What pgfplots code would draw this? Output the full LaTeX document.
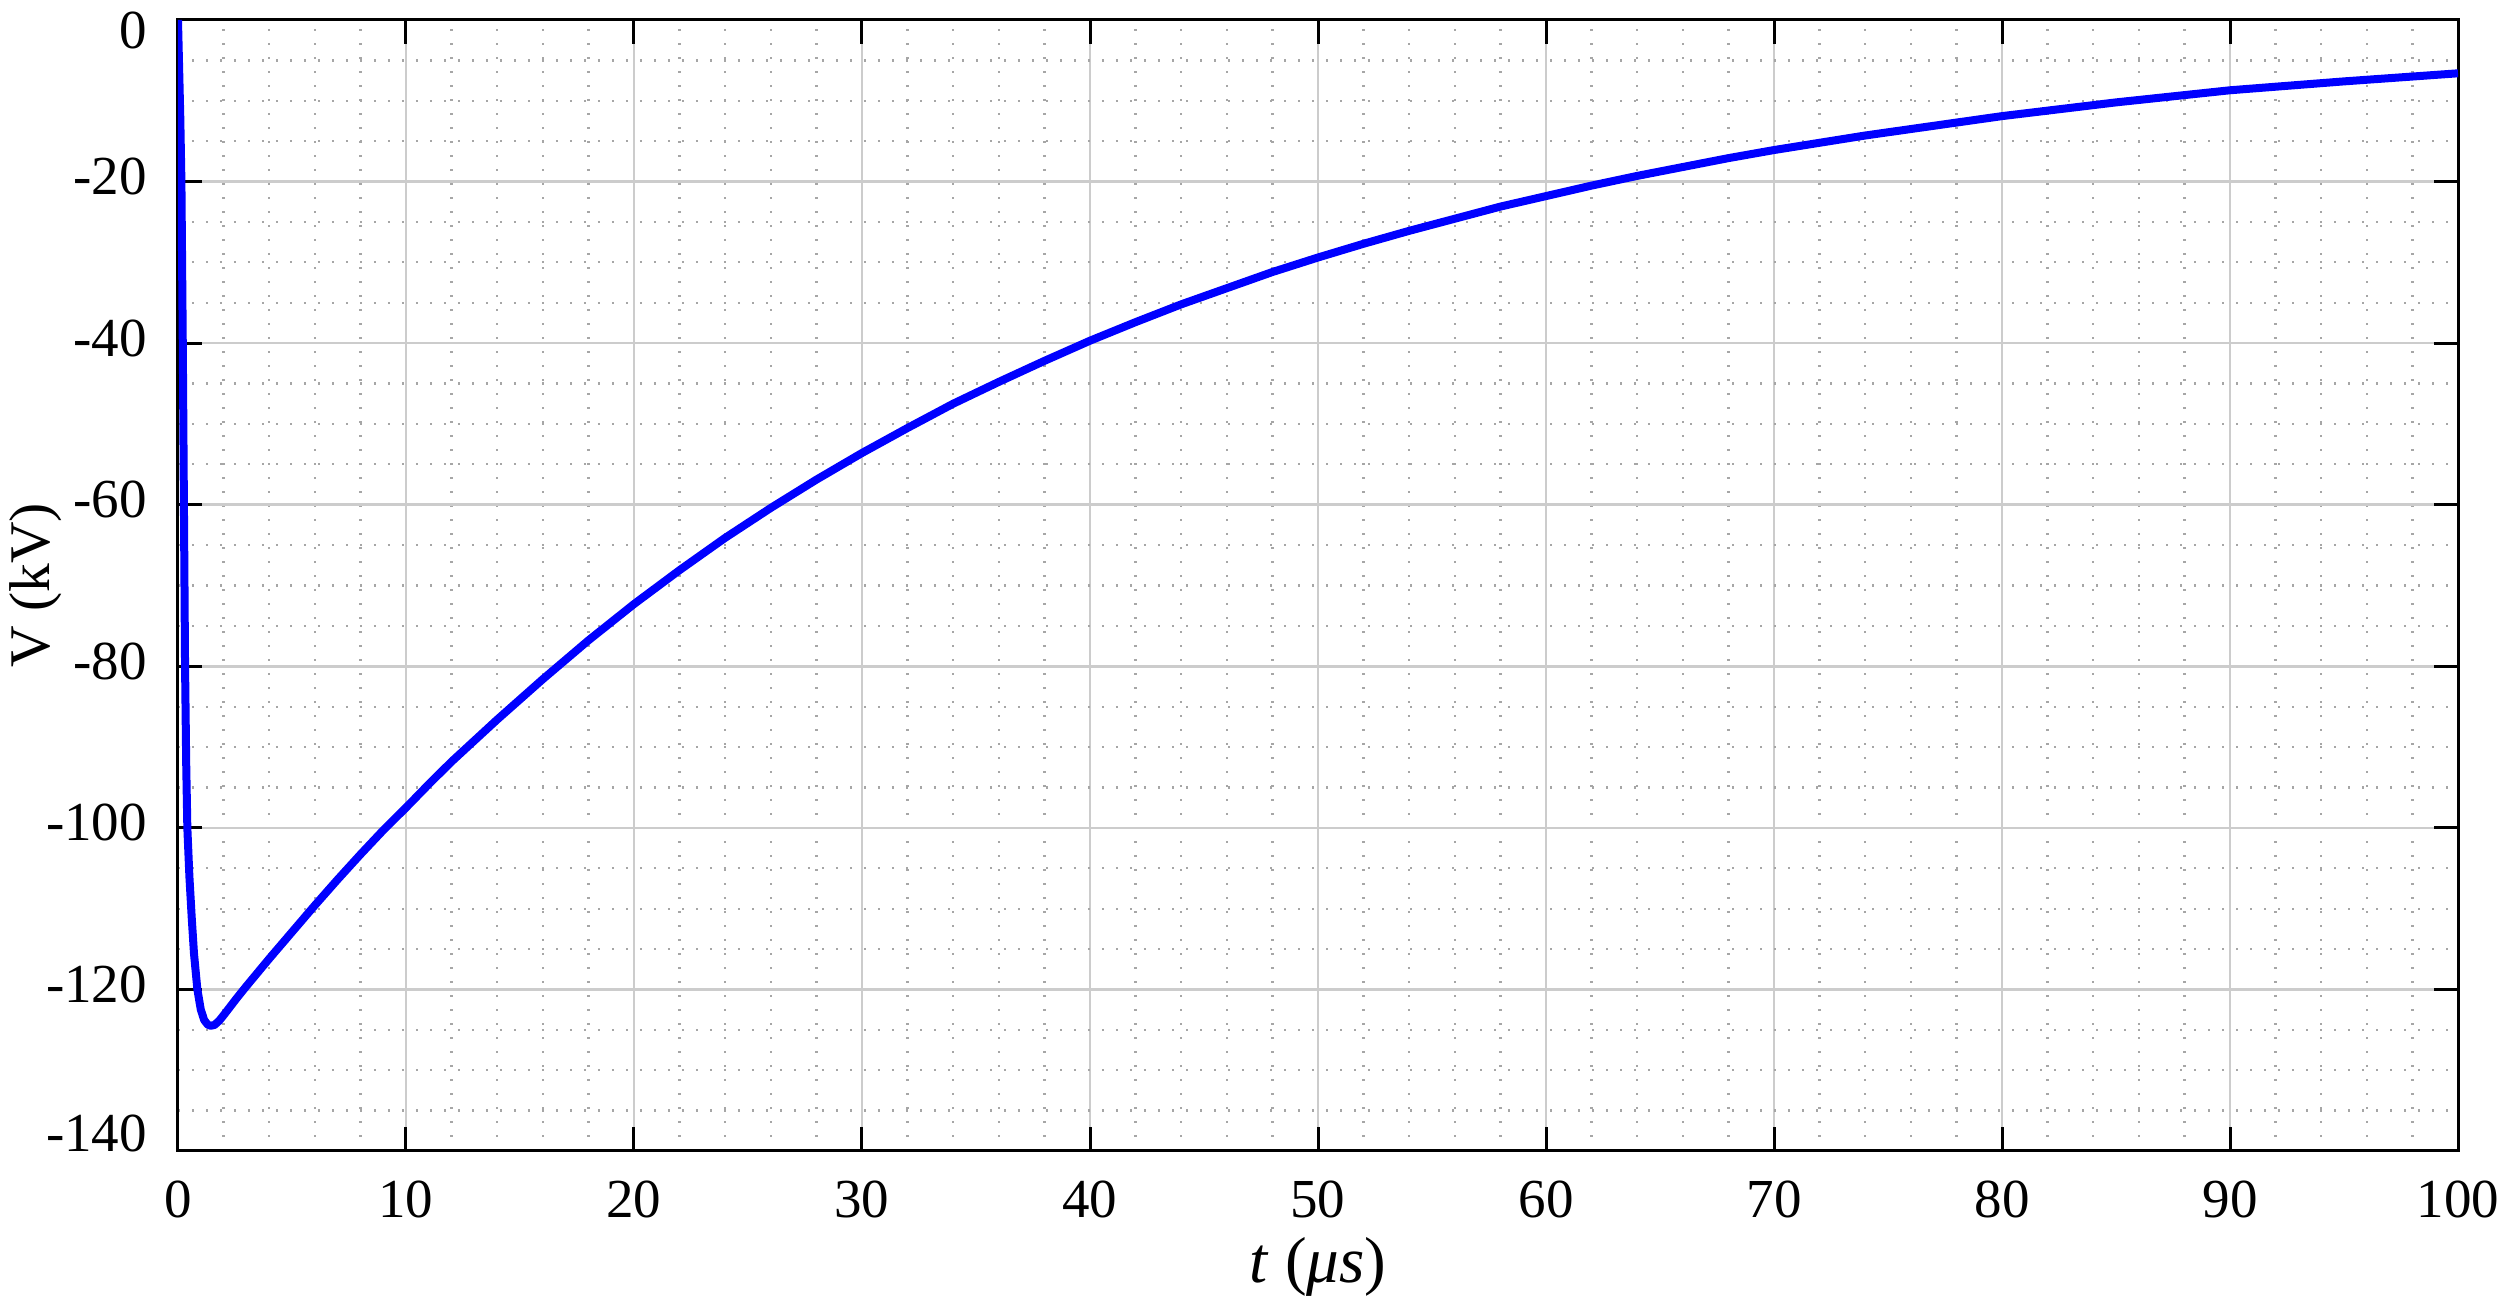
\documentclass[border=0pt]{standalone}
\usepackage{fontspec}
\setmainfont{Liberation Serif}
\usepackage{pgfplots}
\pgfplotsset{compat=1.18}
\begin{document}
\begin{tikzpicture}
\begin{axis}[
  at={(0,0)}, anchor=south west,
  width=456pt, height=226.2pt, scale only axis,
  xmin=0, xmax=100, ymin=-140, ymax=0,
  xtick={0,10,...,100}, ytick={-140,-120,...,0},
  yticklabels={\raisebox{2.6pt}[\height][\depth]{-140},-120,-100,-80,-60,-40,-20,\raisebox{-3pt}[\height][\depth]{0}},
  minor x tick num=4, minor y tick num=3,
  grid=both,
  major grid style={line width=0.5pt, color=black!20},
  minor grid style={line width=0.45pt, color=black!35, dash pattern=on 0.45pt off 2.35pt},
  axis line style={line width=0.6pt, black},
  tick align=inside, major tick length=4.8pt, minor tick length=0pt,
  tick style={line width=0.6pt, black},
  /pgf/number format/assume math mode=true,
  ticklabel style={font=\fontsize{11}{13}\selectfont},
  xticklabel style={anchor=north, inner sep=0pt, yshift=-5.8pt},
  yticklabel style={anchor=east, inner sep=0pt, xshift=-6pt, yshift=1pt},
  xlabel={\textit{t} (\textit{μs})},
  ylabel={V (kV)},
  xlabel style={font=\fontsize{13}{15}\selectfont, at={(axis description cs:0.5,-0.1028)}, anchor=center},
  ylabel style={font=\fontsize{11.5}{13}\selectfont, at={(axis description cs:-0.0623,0.5)}, anchor=center},
]
\addplot[color={rgb,255:red,0;green,0;blue,255}, line width=1.6pt, line join=round] coordinates {
(0,0) (0.1,-12) (0.15,-20) (0.21,-40) (0.26,-60) (0.31,-80) (0.36,-92)
(0.41,-100) (0.5,-106) (0.6,-111) (0.7,-115.5) (0.85,-120) (1.0,-122.5)
(1.15,-123.8) (1.3,-124.35) (1.43,-124.5) (1.6,-124.4) (1.8,-123.9) (2.0,-123.2)
(2.3,-122.1) (2.6,-121.0) (3.0,-119.6)
(4.0,-116.2) (5.0,-112.9) (6.0,-109.6) (7.0,-106.4) (8.0,-103.3) (9.0,-100.3)
(10,-97.5) (11,-94.6) (12,-91.8) (14,-86.6) (16,-81.6) (18,-76.8)
(20,-72.3) (22,-68.1) (24,-64.1) (26,-60.4) (28,-56.9) (30,-53.6) (32,-50.5)
(34,-47.5) (36,-44.8) (38,-42.2) (40,-39.7) (42,-37.4) (44,-35.2) (46,-33.2)
(48,-31.2) (50,-29.4) (52,-27.7) (54,-26.1) (56,-24.6) (58,-23.1) (60,-21.8)
(62,-20.5) (64,-19.3) (66,-18.2) (68,-17.1) (70,-16.1) (72,-15.2) (74,-14.3)
(76,-13.5) (78,-12.7) (80,-11.9) (85,-10.2) (90,-8.7) (95,-7.6) (100,-6.6)
};
\end{axis}
\pgfresetboundingbox
\path (-35.6pt,-31.8pt) rectangle (465.6pt,230.2pt);
\end{tikzpicture}
\end{document}
